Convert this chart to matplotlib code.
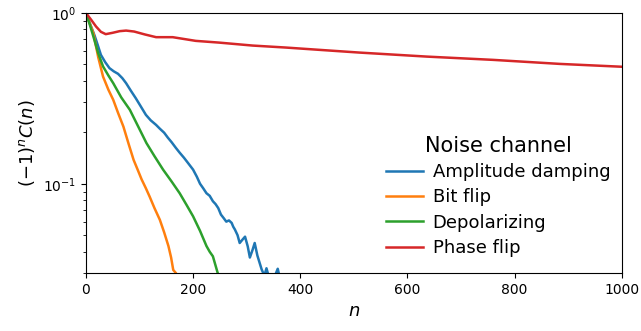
import numpy as np
import matplotlib
matplotlib.use("Agg")
import matplotlib.pyplot as plt

# values
amp_n = [0, 8, 16, 22, 28, 36, 44, 52, 60, 68, 75, 84, 93, 102, 112, 121, 131, 138, 146, 153, 160,
         168, 175, 183, 190, 200, 207, 213, 219, 225, 231, 237, 242, 247, 252, 257, 262, 267, 272,
         275, 278, 283, 287, 292, 297, 302, 306, 311, 315, 320, 328, 333, 337, 342, 348, 353, 358,
         362, 368]
amp_v = [1.0, 0.86, 0.74, 0.65, 0.568, 0.515, 0.475, 0.455, 0.44, 0.415, 0.388, 0.35, 0.317, 0.285,
         0.253, 0.235, 0.221, 0.21, 0.199, 0.186, 0.175, 0.162, 0.152, 0.142, 0.133, 0.121, 0.11,
         0.1, 0.094, 0.088, 0.085, 0.079, 0.076, 0.072, 0.066, 0.063, 0.06, 0.061, 0.059, 0.056,
         0.054, 0.050, 0.045, 0.047, 0.049, 0.043, 0.037, 0.041, 0.045, 0.038, 0.0315, 0.029, 0.032,
         0.028, 0.0275, 0.029, 0.0318, 0.028, 0.026]

bit_n = [0, 7, 14, 23, 32, 42, 51, 60, 70, 80, 89, 97, 104, 112, 119, 128, 138, 146, 154, 159, 163, 168, 172]
bit_v = [1.0, 0.87, 0.760, 0.55, 0.424, 0.355, 0.310, 0.26, 0.216, 0.17, 0.138, 0.12, 0.106, 0.094,
         0.084, 0.072, 0.0615, 0.052, 0.0432, 0.037, 0.0313, 0.030, 0.028]

dep_n = [0, 7, 14, 23, 32, 42, 51, 66, 82, 98, 113, 128, 144, 160, 175, 188, 200, 213, 225, 231, 237, 246, 250]
dep_v = [1.0, 0.86, 0.727, 0.58, 0.486, 0.43, 0.388, 0.32, 0.271, 0.215, 0.173, 0.145, 0.121, 0.103,
         0.088, 0.075, 0.0645, 0.053, 0.0432, 0.040, 0.0376, 0.030, 0.028]

phase_n = [0, 10, 19, 28, 37, 50, 63, 75, 90, 110, 131, 162, 205, 249, 311, 373, 435, 510, 636, 760, 884, 1000]
phase_v = [1.0, 0.91, 0.832, 0.775, 0.751, 0.765, 0.782, 0.788, 0.778, 0.748, 0.721, 0.721, 0.686, 0.670,
           0.644, 0.627, 0.608, 0.586, 0.555, 0.531, 0.503, 0.484]

labels = ["Amplitude damping", "Bit flip", "Depolarizing", "Phase flip"]

fig = plt.figure(figsize=(6.41, 3.31), dpi=100)
ax = fig.add_axes([0.134, 0.175, 0.836, 0.786])

ax.plot(amp_n, amp_v, color="#1f77b4", lw=1.8, label=labels[0])
ax.plot(bit_n, bit_v, color="#ff7f0e", lw=1.8, label=labels[1])
ax.plot(dep_n, dep_v, color="#2ca02c", lw=1.8, label=labels[2])
ax.plot(phase_n, phase_v, color="#d62728", lw=1.8, label=labels[3])

ax.set_yscale("log")
ax.set_xlim(0, 1000)
ax.set_ylim(0.03, 1)
ax.tick_params(labelsize=10)
ax.set_xlabel("$n$", fontsize=13)
ax.set_ylabel("$(-1)^nC(n)$", fontsize=13)

leg = ax.legend(title="Noise channel", loc="lower right", bbox_to_anchor=(1.0086, 0.0),
                frameon=False, fontsize=13, title_fontsize=15, handlelength=2.0,
                handletextpad=0.55, borderpad=0.9, borderaxespad=0.0, labelspacing=0.4)

fig.savefig("out.png", dpi=100)
